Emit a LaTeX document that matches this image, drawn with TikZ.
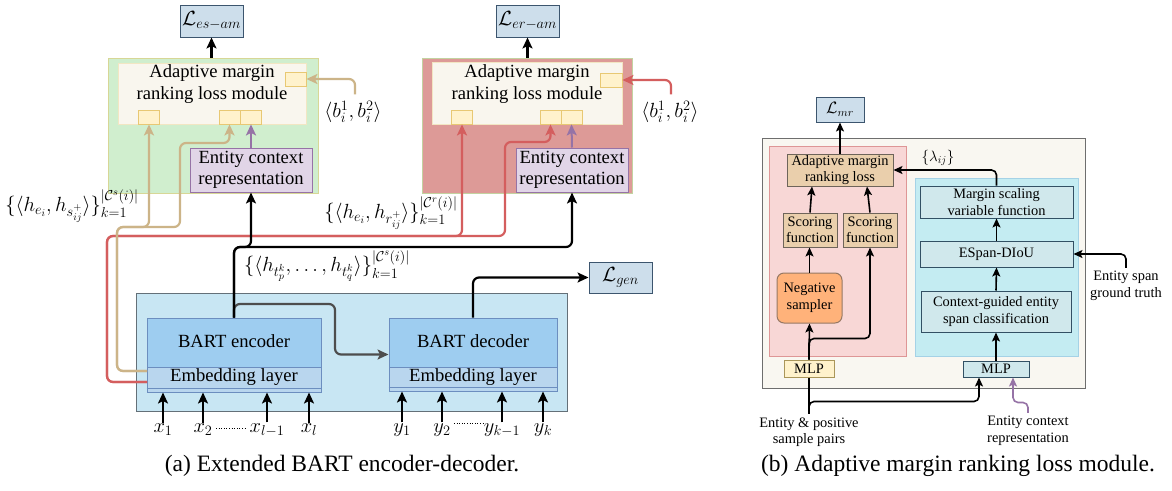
\RequirePackage{fix-cm}
\documentclass[tikz,border=0pt]{standalone}
\usepackage{amsmath}
\usepackage{fontspec}
\setmainfont{Liberation Serif}
\usetikzlibrary{arrows.meta,calc}
\definecolor{lossfill}{RGB}{205,222,235}
\definecolor{lossline}{RGB}{60,85,110}
\definecolor{greenfill}{RGB}{208,238,206}
\definecolor{greenline}{RGB}{215,215,150}
\definecolor{redfill}{RGB}{221,154,151}
\definecolor{redline}{RGB}{195,210,160}
\definecolor{creamfill}{RGB}{249,246,238}
\definecolor{creamline}{RGB}{242,230,195}
\definecolor{sqfill}{RGB}{255,242,204}
\definecolor{sqline}{RGB}{232,200,115}
\definecolor{ecrfill}{RGB}{225,213,231}
\definecolor{ecrline}{RGB}{150,115,166}
\definecolor{outerfill}{RGB}{200,230,243}
\definecolor{outerline}{RGB}{100,112,120}
\definecolor{encfill}{RGB}{158,205,240}
\definecolor{encline}{RGB}{108,142,191}
\definecolor{embfill}{RGB}{185,214,238}
\definecolor{tanc}{RGB}{204,180,136}
\definecolor{redc}{RGB}{212,94,94}
\definecolor{purc}{RGB}{150,115,166}
\definecolor{greyc}{RGB}{77,77,77}
\definecolor{rcream}{RGB}{249,247,241}
\definecolor{rcreamline}{RGB}{110,110,110}
\definecolor{pinkfill}{RGB}{248,215,214}
\definecolor{pinkline}{RGB}{222,150,150}
\definecolor{tanfill}{RGB}{234,207,172}
\definecolor{tanline}{RGB}{110,100,90}
\definecolor{orangefill}{RGB}{255,178,122}
\definecolor{orangeline}{RGB}{150,120,100}
\definecolor{cyanfill}{RGB}{196,236,242}
\definecolor{cyanline}{RGB}{165,210,230}
\definecolor{tealfill}{RGB}{208,232,236}
\definecolor{tealline}{RGB}{50,80,100}
\definecolor{mlpline}{RGB}{170,150,90}
\begin{document}
\begin{tikzpicture}[x=1pt,y=-1pt,
  bx/.style={draw,rectangle,inner sep=0pt,align=center},
  big/.style={font=\fontsize{18.6}{21.5}\selectfont},
  mth/.style={font=\fontsize{20.5}{23}\selectfont},
  sml/.style={font=\fontsize{14.4}{16.5}\selectfont},
  captxt/.style={font=\fontsize{23.5}{26}\selectfont},
  sq/.style={bx,fill=sqfill,draw=sqline,line width=0.8pt,minimum width=21pt,minimum height=14pt},
  ar/.style={-{Stealth[length=11pt,width=10pt,inset=2.5pt]}},
  ars/.style={-{Stealth[length=9pt,width=8pt,inset=2pt]}},
  blk/.style={black,line width=2.2pt,rounded corners=6pt},
  tanl/.style={tanc,line width=2.2pt,rounded corners=6pt},
  redl/.style={redc,line width=2.2pt,rounded corners=6pt},
  purl/.style={purc,line width=2pt,rounded corners=6pt},
  rblk/.style={black,line width=1.6pt,rounded corners=5pt},
  rbox/.style={bx,fill=tealfill,draw=tealline,line width=1pt,sml},
  rtan/.style={bx,fill=tanfill,draw=tanline,line width=1pt,sml},
]
\useasboundingbox[fill=white] (0,0) rectangle (1172,490);

% ---------------- left: module 1 (green) ----------------
\node[bx,fill=lossfill,draw=lossline,line width=1pt,minimum width=63pt,minimum height=32pt,mth] (les) at (211.5,21) {$\mathcal{L}_{es-am}$};
\node[bx,fill=greenfill,draw=greenline,line width=1pt,minimum width=210pt,minimum height=135pt] (gbox) at (213,125.5) {};
\node[bx,fill=creamfill,draw=creamline,line width=1pt,minimum width=188pt,minimum height=61pt] (cr1) at (212,93.5) {};
\node[sq] (s1a) at (295.5,79) {};
\node[sq] (s1b) at (149,117) {};
\node[sq] (s1c) at (229.5,117) {};
\node[sq] (s1d) at (251,117) {};
\node[big,align=center,inner sep=0pt] (t1) at (212,84) {Adaptive margin\\ranking loss module};
\node[bx,fill=ecrfill,draw=ecrline,line width=1pt,minimum width=122pt,minimum height=44pt,big] (e1) at (251,170) {Entity context\\representation};

% ---------------- left: module 2 (red) ----------------
\node[bx,fill=lossfill,draw=lossline,line width=1pt,minimum width=63pt,minimum height=32pt,mth] (ler) at (527.5,21) {$\mathcal{L}_{er-am}$};
\node[bx,fill=redfill,draw=redline,line width=1pt,minimum width=210pt,minimum height=135pt] (rbox) at (527,125.5) {};
\node[bx,fill=creamfill,draw=creamline,line width=1pt,minimum width=190pt,minimum height=62pt] (cr2) at (527,93.5) {};
\node[sq,minimum width=22pt] (s2a) at (611,80) {};
\node[sq] (s2b) at (462,117) {};
\node[sq] (s2c) at (550.5,117) {};
\node[sq] (s2d) at (571.5,117) {};
\node[big,align=center,inner sep=0pt] (t2) at (527,84) {Adaptive margin\\ranking loss module};
\node[bx,fill=ecrfill,draw=ecrline,line width=1pt,minimum width=112pt,minimum height=44pt,big] (e2) at (572,170) {Entity context\\representation};

\node[mth] (b1) at (353,112) {$\langle b_i^1, b_i^2\rangle$};
\node[mth] (b2) at (670,112) {$\langle b_i^1, b_i^2\rangle$};

% ---------------- encoder / decoder ----------------
\node[bx,fill=outerfill,draw=outerline,line width=1pt,minimum width=431pt,minimum height=118pt] (outer) at (351.5,352) {};
\node[bx,fill=encfill,draw=encline,line width=1pt,minimum width=174pt,minimum height=74pt] (enc) at (234,355) {};
\node[bx,fill=embfill,draw=encline,line width=1pt,minimum width=174pt,minimum height=25pt] (emb1) at (234,379.5) {};
\draw[encline,line width=1pt] ($(emb1.south west)+(0,-4)$) -- ($(emb1.south east)+(0,-4)$);
\node[big] (tenc) at (234,341) {BART encoder};
\node[big] (temb1) at (234,377) {Embedding layer};

\node[bx,fill=encfill,draw=encline,line width=1pt,minimum width=168pt,minimum height=73pt] (dec) at (473,354.5) {};
\node[bx,fill=embfill,draw=encline,line width=1pt,minimum width=168pt,minimum height=24pt] (emb2) at (473,379) {};
\draw[encline,line width=1pt] ($(emb2.south west)+(0,-4)$) -- ($(emb2.south east)+(0,-4)$);
\node[big] (tdec) at (473,341) {BART decoder};
\node[big] (temb2) at (473,377) {Embedding layer};

\node[bx,fill=lossfill,draw=lossline,line width=1pt,minimum width=63pt,minimum height=31pt,mth] (lgen) at (620.5,277.5) {$\mathcal{L}_{gen}$};

% inputs
\node[mth,inner sep=1pt] (x1) at (163,430) {$x_1$};
\node[mth,inner sep=1pt] (x2) at (203,430) {$x_2$};
\node[mth,inner sep=1pt] (xl1) at (267,430) {$x_{l-1}$};
\node[mth,inner sep=1pt] (xl) at (309,430) {$x_l$};
\node[mth,inner sep=1pt] (y1) at (402,430) {$y_1$};
\node[mth,inner sep=1pt] (y2) at (442,430) {$y_2$};
\node[mth,inner sep=1pt] (yk1) at (502,430) {$y_{k-1}$};
\node[mth,inner sep=1pt] (yk) at (543,430) {$y_k$};
\foreach \n in {x1,x2,xl1,xl}{\draw[blk,ar] (\n.north) -- (\n.north |- emb1.south);}
\foreach \n in {y1,y2,yk1,yk}{\draw[blk,ar] (\n.north) -- (\n.north |- emb2.south);}
\draw[black,line width=0.6pt,dotted] (216,428) -- (245,428);
\draw[black,line width=0.6pt,dotted] (454,423) -- (484,423);

% labels
\node[mth] (lhs) at (72,206) {$\{\langle h_{e_i}, h_{s^+_{ij}}\rangle\}_{k=1}^{|\mathcal{C}^s(i)|}$};
\node[mth] (lhr) at (391,213) {$\{\langle h_{e_i}, h_{r^+_{ij}}\rangle\}_{k=1}^{|\mathcal{C}^r(i)|}$};
\node[mth] (lht) at (327,266) {$\{\langle h_{t^k_p}, \ldots, h_{t^k_q}\rangle\}_{k=1}^{|\mathcal{C}^s(i)|}$};

% connectors: grey encoder->decoder
\coordinate (g1) at (335,304);
\draw[greyc,line width=2.2pt,rounded corners=6pt,ar] (enc.north) |- (g1) |- (dec.west);
% red
\coordinate (r0) at (147,382);
\coordinate (rc) at (107,236);
\draw[redl,ar] (r0) -| (rc) -| (s2b.south);
\draw[redl,ar] (r0) -| (rc) -- (505,236) -- (505,142) -| (s2c.south);
% tan
\coordinate (t0) at (147,371);
\coordinate (tc) at (117,227);
\draw[tanl,ar] (t0) -| (tc) -| (s1b.south);
\draw[tanl,ar] (t0) -| (tc) -- (180,227) -- (180,143) -| (s1c.south);
\draw[tanl,ar] ($(b1.north)+(2,-3)$) |- (s1a.east);
\draw[redl,ar] ($(b2.north)+(1,-3)$) |- (s2a.east);
% purple
\draw[purl,ar] (e1.north) -- (s1d.south);
\draw[purl,ar] (e2.north) -- (s2d.south);
% black
\coordinate (j1) at (234,247);
\draw[blk,ar] (enc.north) -- (j1) -| (e1.south);
\draw[blk,ar] (enc.north) -- (j1) -| (e2.south);
\draw[blk,ar] (dec.north) |- (lgen.west);
\draw[blk,ar] (gbox.north -| les.south) -- (les.south);
\draw[blk,ar] (rbox.north -| ler.south) -- (ler.south);

% ---------------- right diagram ----------------
\node[bx,fill=lossfill,draw=lossline,line width=1pt,minimum width=48pt,minimum height=25pt,font=\fontsize{16.5}{18}\selectfont] (lmr) at (840,109.5) {$\mathcal{L}_{mr}$};
\node[bx,fill=rcream,draw=rcreamline,line width=1pt,minimum width=323pt,minimum height=250pt] (outR) at (923.5,263) {};
\node[bx,fill=pinkfill,draw=pinkline,line width=1pt,minimum width=137pt,minimum height=210pt] (pinkR) at (837.5,251) {};
\node[bx,fill=cyanfill,draw=cyanline,line width=1pt,minimum width=163pt,minimum height=178pt] (blueR) at (996.5,267) {};
\node[rtan,minimum width=106pt,minimum height=32pt] (amrl) at (840,170) {Adaptive margin\\ranking loss};
\node[rtan,minimum width=54pt,minimum height=34pt] (sf1) at (810,230) {Scoring\\function};
\node[rtan,minimum width=54pt,minimum height=34pt] (sf2) at (870,230) {Scoring\\function};
\node[bx,rounded corners=7pt,fill=orangefill,draw=orangeline,line width=1pt,minimum width=65pt,minimum height=50pt,sml] (neg) at (809.5,298) {Negative\\sampler};
\node[bx,fill=sqfill,draw=mlpline,line width=1pt,minimum width=50pt,minimum height=17pt,sml] (mlp1) at (809,368.5) {MLP};
\node[rbox,minimum width=153pt,minimum height=32pt] (msv) at (996.5,202) {Margin scaling\\variable function};
\node[rbox,minimum width=153pt,minimum height=26pt] (esd) at (996.5,254) {ESpan-DIoU};
\node[rbox,minimum width=150pt,minimum height=41pt] (cge) at (996,311.5) {Context-guided entity\\span classification};
\node[rbox,minimum width=66pt,minimum height=16pt] (mlp2) at (996,369) {MLP};
\node[font=\fontsize{15}{17}\selectfont] (lam) at (938,158) {$\{\lambda_{ij}\}$};
\node[sml,align=center] (gt) at (1126,286) {Entity span\\ground truth};
\node[sml,align=center] (ep) at (809,432) {Entity \& positive\\sample pairs};
\node[sml,align=center] (ec) at (1028,431) {Entity context\\representation};

\draw[rblk,ars] (amrl.north) -- (lmr.south);
\draw[rblk,ars] (sf1.north) -- ($(amrl.south)+(-28,0)$);
\draw[rblk,ars] (sf2.north) -- ($(amrl.south)+(27,0)$);
\draw[rblk,ars] (neg.north) -- (neg.north |- sf1.south);
\draw[rblk,ars] (mlp1.north) -- (neg.south);
\draw[rblk,ars] (mlp1.north) -- ++(0,-21) -| (sf2.south);
\draw[rblk] (ep.north) -- (mlp1.south);
\draw[rblk,ars] (ep.north) |- ($(mlp2.south)+(-17,24)$) -- ($(mlp2.south)+(-17,0)$);
\draw[purc,line width=1.6pt,rounded corners=5pt,ars] (ec.north) |- ($(mlp2.south)+(17,25)$) -- ($(mlp2.south)+(17,0)$);
\draw[rblk,ars] (mlp2.north) -- (cge.south);
\draw[rblk,ars] (cge.north) -- (esd.south);
\draw[rblk,ars] (esd.north) -- (msv.south);
\draw[rblk,ars] (msv.north) |- (amrl.east);
\draw[rblk,ars] (gt.north) |- (esd.east);

% captions
\node[captxt] (capa) at (342,466) {(a) Extended BART encoder-decoder.};
\node[captxt] (capb) at (958,466) {(b) Adaptive margin ranking loss module.};
\end{tikzpicture}
\end{document}
